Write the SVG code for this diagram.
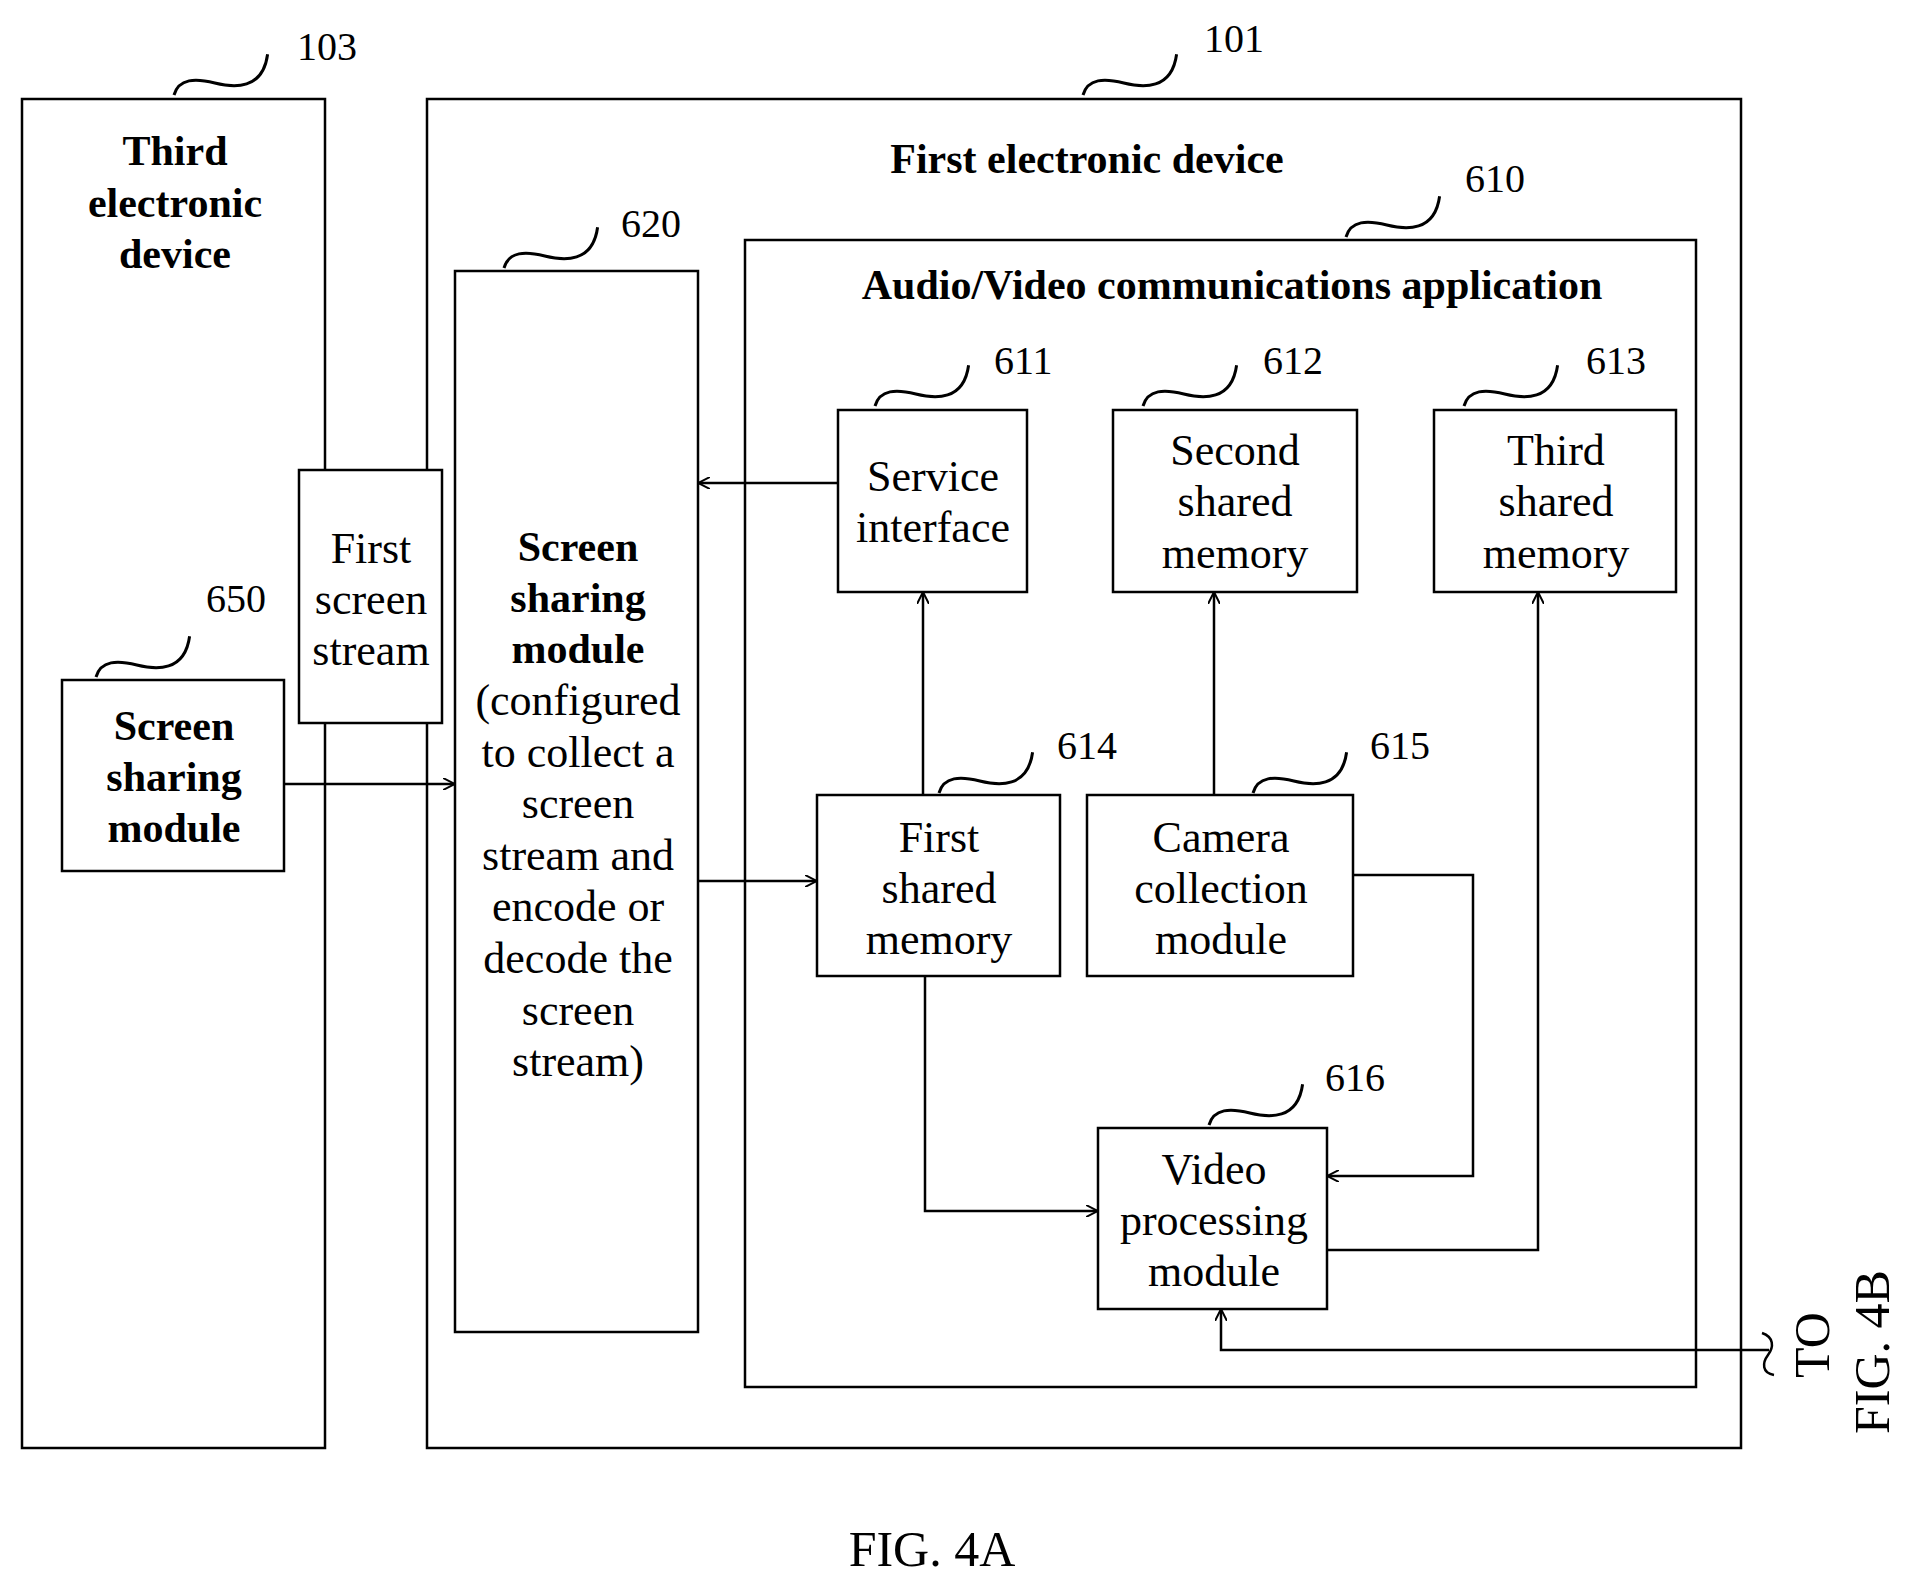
<svg xmlns="http://www.w3.org/2000/svg" width="1912" height="1589" viewBox="0 0 1912 1589">
<style>
rect{fill:none;stroke:#000;stroke-width:2.5}
.w{fill:#fff}
text{font-family:"Liberation Serif",serif;font-size:44px;text-anchor:middle;dominant-baseline:central}
.b{font-weight:bold;font-size:42px}
.n{font-size:40px;text-anchor:start;dominant-baseline:auto}
.c path,.c polyline,.c line{fill:none;stroke:#000;stroke-width:2.5}
.sq{fill:none;stroke:#000;stroke-width:2.5}
</style>
<defs>
<marker id="a" viewBox="0 0 12 12" refX="12" refY="6" markerWidth="12" markerHeight="12" markerUnits="userSpaceOnUse" orient="auto"><path d="M0,0 L12,6 L0,12" fill="none" stroke="#000" stroke-width="2"/></marker>
<path id="s" d="M0,0 c4,-14 18,-14 34,-10 s40,6 44,-24" class="sq"/>
</defs>
<g id="n103"><rect x="22" y="99" width="303" height="1349"/>
<text class="b" x="175" y="151">Third</text><text class="b" x="175" y="203">electronic</text><text class="b" x="175" y="254">device</text>
<use href="#s" transform="translate(174,95) scale(1.2)"/><text class="n" x="297" y="60">103</text></g>
<g id="n101"><rect x="427" y="99" width="1314" height="1349"/>
<text class="b" x="1087" y="159">First electronic device</text>
<use href="#s" transform="translate(1083,95) scale(1.2)"/><text class="n" x="1204" y="52">101</text></g>
<g id="n610"><rect x="745" y="240" width="951" height="1147"/>
<text class="b" x="1232" y="285">Audio/Video communications application</text>
<use href="#s" transform="translate(1346,237) scale(1.2)"/><text class="n" x="1465" y="192">610</text></g>
<g id="n620"><rect x="455" y="271" width="243" height="1061"/>
<text class="b" x="578" y="547">Screen</text><text class="b" x="578" y="598">sharing</text><text class="b" x="578" y="649">module</text>
<text x="578" y="700">(configured</text><text x="578" y="752">to collect a</text><text x="578" y="803">screen</text><text x="578" y="855">stream and</text><text x="578" y="906">encode or</text><text x="578" y="958">decode the</text><text x="578" y="1010">screen</text><text x="578" y="1061">stream)</text>
<use href="#s" transform="translate(504,268) scale(1.2)"/><text class="n" x="621" y="237">620</text></g>
<g id="stream"><rect class="w" x="299" y="470" width="143" height="253"/>
<text x="371" y="548">First</text><text x="371" y="599">screen</text><text x="371" y="650">stream</text></g>
<g id="n650"><rect class="w" x="62" y="680" width="222" height="191"/>
<text class="b" x="174" y="726">Screen</text><text class="b" x="174" y="777">sharing</text><text class="b" x="174" y="828">module</text>
<use href="#s" transform="translate(96,677) scale(1.2)"/><text class="n" x="206" y="612">650</text></g>
<g id="n611"><rect x="838" y="410" width="189" height="182"/>
<text x="933" y="476">Service</text><text x="933" y="527">interface</text>
<use href="#s" transform="translate(875,406) scale(1.2)"/><text class="n" x="994" y="374">611</text></g>
<g id="n612"><rect x="1113" y="410" width="244" height="182"/>
<text x="1235" y="450">Second</text><text x="1235" y="501">shared</text><text x="1235" y="553">memory</text>
<use href="#s" transform="translate(1143,406) scale(1.2)"/><text class="n" x="1263" y="374">612</text></g>
<g id="n613"><rect x="1434" y="410" width="242" height="182"/>
<text x="1556" y="450">Third</text><text x="1556" y="501">shared</text><text x="1556" y="553">memory</text>
<use href="#s" transform="translate(1464,406) scale(1.2)"/><text class="n" x="1586" y="374">613</text></g>
<g id="n614"><rect x="817" y="795" width="243" height="181"/>
<text x="939" y="837">First</text><text x="939" y="888">shared</text><text x="939" y="939">memory</text>
<use href="#s" transform="translate(939,793) scale(1.2)"/><text class="n" x="1057" y="759">614</text></g>
<g id="n615"><rect x="1087" y="795" width="266" height="181"/>
<text x="1221" y="837">Camera</text><text x="1221" y="888">collection</text><text x="1221" y="939">module</text>
<use href="#s" transform="translate(1253,793) scale(1.2)"/><text class="n" x="1370" y="759">615</text></g>
<g id="n616"><rect x="1098" y="1128" width="229" height="181"/>
<text x="1214" y="1169">Video</text><text x="1214" y="1220">processing</text><text x="1214" y="1271">module</text>
<use href="#s" transform="translate(1209,1125) scale(1.2)"/><text class="n" x="1325" y="1091">616</text></g>
<g class="c" id="connectors">
<line x1="284" y1="784" x2="455" y2="784" marker-end="url(#a)"/>
<line x1="838" y1="483" x2="698" y2="483" marker-end="url(#a)"/>
<line x1="698" y1="881" x2="817" y2="881" marker-end="url(#a)"/>
<line x1="923" y1="795" x2="923" y2="592" marker-end="url(#a)"/>
<line x1="1214" y1="795" x2="1214" y2="592" marker-end="url(#a)"/>
<polyline points="925,976 925,1211 1098,1211" marker-end="url(#a)"/>
<polyline points="1353,875 1473,875 1473,1176 1327,1176" marker-end="url(#a)"/>
<polyline points="1327,1250 1538,1250 1538,592" marker-end="url(#a)"/>
<polyline points="1769,1350 1221,1350 1221,1309" marker-end="url(#a)"/>
<path d="M1762,1333 c12,4 12,14 6,22 s-6,18 6,20"/>
</g>
<text x="1812" y="1345" transform="rotate(-90 1812 1345)" style="font-size:50px">TO</text>
<text x="1872" y="1352" transform="rotate(-90 1872 1352)" style="font-size:50px">FIG. 4B</text>
<text x="932" y="1549" style="font-size:50px">FIG. 4A</text>
</svg>
